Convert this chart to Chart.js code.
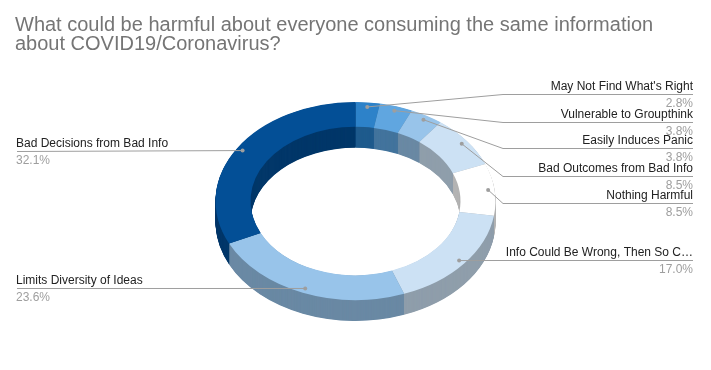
<!DOCTYPE html>
<html>
<head>
<meta charset="utf-8">
<script src="https://cdn.jsdelivr.net/npm/chart.js@4.4.0/dist/chart.umd.min.js"></script>
<style>
  html, body { margin: 0; padding: 0; background: #fff; overflow: hidden; }
  canvas { display: block; }
</style>
</head>
<body>
<canvas id="chart" width="711" height="370"></canvas>
<script>
// Data (clockwise from 12 o'clock)
const categories = [
  "May Not Find What's Right",
  "Vulnerable to Groupthink",
  "Easily Induces Panic",
  "Bad Outcomes from Bad Info",
  "Nothing Harmful",
  "Info Could Be Wrong, Then So C…",
  "Limits Diversity of Ideas",
  "Bad Decisions from Bad Info"
];
const shares = [2.8, 3.8, 3.8, 8.5, 8.5, 17.0, 23.6, 32.1];

const titleLines = [
  'What could be harmful about everyone consuming the same information',
  'about COVID19/Coronavirus?'
];

// styling / layout
const sliceColors = ['#2d82c9', '#60a6e0', '#98c4ea', '#cce1f4', '#ffffff', '#cce1f4', '#98c4ea', '#034f96'];
const labelSide = ['right', 'right', 'right', 'right', 'right', 'right', 'left', 'left'];
const labelLineY = [94, 122, 148, 176, 203, 260, 288, 151];

const W = 711, H = 370;
const CX = 355.5, CY = 201, R = 140;   // ring centre / outer radius (before tilt)
const TILT = 0.707;                    // vertical squash of the ring
const DEPTH = 21;                      // thickness of the 3D wall in px
const ELBOW_X = 503, RIGHT_X = 693, LEFT_X = 17;
const FONT = '"Liberation Sans", Arial, Helvetica, sans-serif';

const shade = (hex, f) => {
  const n = parseInt(hex.slice(1), 16);
  const r = (n >> 16) & 255, g = (n >> 8) & 255, b = n & 255;
  return `rgb(${Math.round(r * f)},${Math.round(g * f)},${Math.round(b * f)})`;
};

const ring3d = {
  id: 'ring3d',
  beforeDatasetsDraw(chart) {
    const ctx = chart.ctx;
    const arcs = chart.getDatasetMeta(0).data;
    const cy = arcs[0].y;
    ctx.save();
    // squash everything drawn from here until afterDatasetsDraw
    ctx.translate(0, cy);
    ctx.scale(1, TILT);
    ctx.translate(0, -cy);
    // extruded side: stack darker copies below the top face
    for (let d = DEPTH; d > 0; d -= 0.5) {
      const off = d / TILT;
      arcs.forEach((a, i) => {
        const p = a.getProps(['x', 'y', 'startAngle', 'endAngle', 'innerRadius', 'outerRadius']);
        ctx.beginPath();
        ctx.arc(p.x, p.y + off, p.outerRadius, p.startAngle, p.endAngle);
        ctx.arc(p.x, p.y + off, p.innerRadius, p.endAngle, p.startAngle, true);
        ctx.closePath();
        ctx.fillStyle = shade(sliceColors[i], 0.7);
        ctx.fill();
      });
    }
  },
  afterDatasetsDraw(chart) {
    const ctx = chart.ctx;
    ctx.restore();
    const arcs = chart.getDatasetMeta(0).data;
    const total = shares.reduce((s, v) => s + v, 0);

    ctx.save();
    arcs.forEach((a, i) => {
      const p = a.getProps(['x', 'y', 'startAngle', 'endAngle', 'outerRadius']);
      const mid = (p.startAngle + p.endAngle) / 2;
      const r = p.outerRadius * 0.954;
      const dx = p.x + Math.cos(mid) * r;
      const dy = p.y + Math.sin(mid) * r * TILT;
      const ly = Math.round(labelLineY[i]) + 0.5;

      ctx.strokeStyle = '#9e9e9e';
      ctx.lineWidth = 1;
      ctx.beginPath();
      ctx.moveTo(dx, dy);
      if (labelSide[i] === 'right') {
        ctx.lineTo(ELBOW_X, ly);
        ctx.lineTo(RIGHT_X, ly);
      } else {
        ctx.lineTo(LEFT_X, ly);
      }
      ctx.stroke();

      ctx.fillStyle = '#9e9e9e';
      ctx.beginPath();
      ctx.arc(dx, dy, 2, 0, Math.PI * 2);
      ctx.fill();

      const right = labelSide[i] === 'right';
      const tx = right ? RIGHT_X : LEFT_X - 1;
      ctx.textAlign = right ? 'right' : 'left';
      ctx.textBaseline = 'alphabetic';
      ctx.font = '12px ' + FONT;
      ctx.fillStyle = '#222222';
      ctx.fillText(categories[i], tx, ly - 4.5);
      ctx.fillStyle = '#9e9e9e';
      ctx.fillText((shares[i] / total * 100).toFixed(1) + '%', tx, ly + 12);
    });

    // title
    ctx.textAlign = 'left';
    ctx.textBaseline = 'alphabetic';
    ctx.font = '20px ' + FONT;
    ctx.fillStyle = '#757575';
    ctx.fillText(titleLines[0], 15, 31);
    ctx.fillText(titleLines[1], 15, 50);
    ctx.restore();
  }
};

new Chart(document.getElementById('chart'), {
  type: 'doughnut',
  data: {
    labels: categories,
    datasets: [{
      data: shares,
      backgroundColor: sliceColors,
      borderWidth: 0,
      hoverOffset: 0
    }]
  },
  options: {
    responsive: false,
    animation: false,
    cutout: '75%',
    rotation: 0,
    layout: {
      padding: { left: CX - R, right: W - (CX + R), top: CY - R, bottom: H - (CY + R) }
    },
    plugins: {
      legend: { display: false },
      tooltip: { enabled: false },
      title: { display: false }
    }
  },
  plugins: [ring3d]
});
</script>
</body>
</html>
